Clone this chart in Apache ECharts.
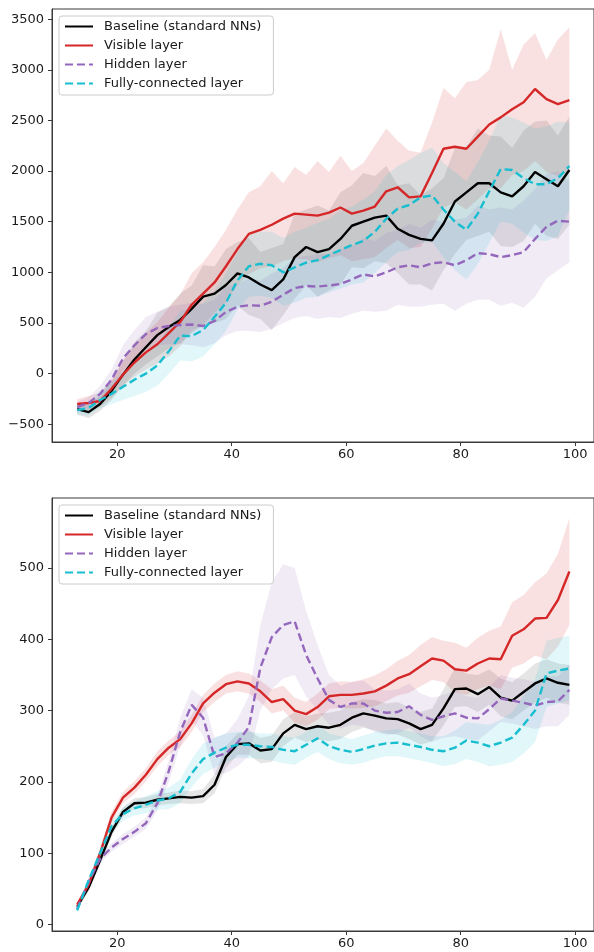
<!DOCTYPE html>
<html><head><meta charset="utf-8">
<script src="https://cdn.jsdelivr.net/npm/echarts@6/dist/echarts.min.js"></script>
<style>html,body{margin:0;padding:0;background:#fff}#c{width:594px;height:952px}</style>
</head><body><div id="c"></div>
<script>
// ---------- data ----------
const xs = [13,15,17,19,21,23,25,27,29,31,33,35,37,39,41,43,45,47,49,51,53,55,57,59,61,63,65,67,69,71,73,75,77,79,81,83,85,87,89,91,93,95,97,99];
const seriesNames = ['Baseline (standard NNs)','Visible layer','Hidden layer','Fully-connected layer'];
const xTicks = [20,40,60,80,100];
const topYTicks = [-500,0,500,1000,1500,2000,2500,3000,3500];
const botYTicks = [0,100,200,300,400,500];

// top panel
const topBaseline   = [-350,-380,-300,-170,-10,140,260,380,460,530,640,760,790,875,990,950,880,825,930,1150,1250,1200,1230,1330,1460,1500,1540,1560,1430,1370,1330,1316,1480,1700,1790,1880,1880,1790,1750,1850,1990,1920,1850,2010];
const topBaselineHi = [-300,-310,-220,-80,120,310,420,600,660,790,870,1070,1060,1230,1300,1340,1200,1240,1280,1580,1620,1660,1610,1790,1860,1980,1950,2050,1860,1880,1760,1830,1930,2230,2240,2420,2350,2340,2230,2400,2490,2500,2350,2540];
const topBaselineLo = [-400,-440,-370,-260,-120,0,90,170,250,300,400,470,500,540,670,580,540,430,580,740,870,760,820,880,1050,1040,1110,1090,990,880,880,820,1020,1180,1320,1360,1400,1260,1250,1310,1480,1360,1330,1470];

const topVisible   = [-300,-290,-270,-150,-10,110,210,290,400,510,680,790,900,1060,1230,1380,1420,1470,1530,1580,1570,1560,1590,1640,1580,1610,1650,1800,1840,1740,1750,1980,2220,2240,2220,2340,2460,2530,2610,2680,2810,2710,2660,2700];
const topVisibleHi = [-250,-220,-190,-50,130,280,400,510,650,780,990,1100,1250,1420,1620,1790,1850,2000,1880,2040,1960,2100,1990,2150,2000,2080,2250,2420,2300,2200,2180,2480,2820,2720,2880,2900,3000,3400,3000,3250,3360,3100,3300,3420];
const topVisibleLo = [-350,-360,-330,-240,-120,-30,40,100,170,270,420,480,600,700,880,980,1040,1060,1110,1140,1130,1100,1140,1170,1110,1130,1150,1240,1320,1240,1250,1430,1640,1690,1620,1720,1830,1830,1960,2000,2100,1990,1950,1980];

const topHidden   = [-330,-290,-200,-60,150,280,390,450,470,480,485,470,520,610,660,675,670,710,780,845,865,860,870,885,930,980,960,1000,1050,1070,1050,1090,1100,1070,1120,1190,1180,1150,1170,1200,1330,1450,1510,1500];
const topHiddenHi = [-280,-230,-120,40,280,430,560,610,660,680,700,690,730,860,890,940,920,990,1040,1150,1160,1180,1180,1230,1260,1340,1310,1390,1420,1480,1440,1520,1500,1520,1540,1660,1620,1640,1620,1710,1820,1970,2000,1900];
const topHiddenLo = [-380,-350,-270,-150,30,140,230,280,290,290,280,260,300,380,420,420,410,440,500,550,570,540,560,550,590,620,610,620,680,660,660,680,690,620,690,730,730,670,700,650,760,940,1020,1100];

const topFC   = [-360,-340,-260,-200,-130,-60,0,80,220,375,370,430,560,700,920,1060,1085,1070,1000,1050,1095,1120,1170,1220,1270,1310,1400,1530,1630,1665,1740,1760,1620,1500,1420,1580,1800,2020,2010,1930,1870,1870,1930,2050];
const topFCHi = [-310,-280,-170,-90,10,110,190,290,450,620,630,700,820,990,1200,1370,1400,1400,1340,1400,1440,1490,1530,1610,1650,1720,1800,1960,2050,2110,2180,2230,2080,1990,1900,2090,2300,2550,2530,2480,2420,2440,2490,2480];
const topFCLo = [-410,-410,-340,-300,-260,-220,-180,-120,0,130,120,170,290,420,630,760,770,750,670,700,750,760,800,840,880,900,990,1100,1200,1220,1290,1300,1150,1020,930,1080,1290,1500,1480,1390,1320,1310,1360,1620];

// bottom panel
const botBaseline   = [25,52,90,130,158,170,171,175,177,179,178,180,196,235,253,254,244,246,268,280,274,278,276,280,290,296,293,289,288,282,274,280,303,330,331,323,333,318,314,326,338,345,339,336];
const botBaselineHi = [28,57,96,137,165,177,179,183,185,188,187,190,210,250,268,272,262,265,288,298,292,296,297,300,312,316,315,310,312,304,298,303,330,360,352,350,358,345,340,352,366,372,366,364];
const botBaselineLo = [22,47,84,123,151,163,163,167,169,170,169,170,184,220,238,238,226,228,250,262,256,259,257,260,270,276,272,268,266,260,252,257,279,305,306,298,308,292,288,300,311,318,311,308];

const botVisible   = [28,56,100,150,178,192,210,232,248,260,282,310,325,337,341,338,327,312,316,300,295,305,320,322,322,324,327,335,345,351,362,373,370,358,356,366,373,372,405,414,429,430,455,495];
const botVisibleHi = [31,61,107,158,186,201,219,243,258,271,294,322,338,350,355,352,342,330,335,318,312,324,338,341,340,344,349,358,370,378,392,403,398,395,388,402,412,418,452,462,480,492,520,570];
const botVisibleLo = [25,51,93,142,170,183,201,222,238,249,270,298,312,324,327,324,312,296,300,283,278,287,302,304,303,304,306,313,321,325,334,343,340,326,322,330,335,330,360,366,377,372,390,420];

const botHidden   = [22,60,92,108,120,130,142,170,215,270,308,290,235,240,255,277,360,403,420,425,378,345,315,305,310,310,300,297,298,306,294,287,292,296,290,289,302,317,314,311,307,312,313,329];
const botHiddenHi = [25,65,98,114,127,137,150,180,230,290,330,318,262,268,288,320,420,480,505,500,440,392,350,335,340,342,330,328,330,338,324,318,322,328,320,318,333,350,346,344,340,348,348,365];
const botHiddenLo = [19,55,86,102,113,123,134,160,200,250,286,265,210,212,222,236,300,330,345,350,320,300,280,275,280,278,270,266,268,276,264,256,262,264,260,258,271,284,282,278,274,278,278,294];

const botFC   = [20,62,100,138,155,163,168,174,177,186,212,232,241,248,252,252,250,249,245,243,252,261,250,245,242,246,251,254,255,252,249,245,243,248,258,255,250,255,262,280,300,352,356,359];
const botFCHi = [23,67,106,146,164,173,180,187,192,203,232,254,262,268,270,271,268,268,264,262,270,280,268,264,260,265,270,272,274,271,268,264,264,272,284,282,280,287,298,320,344,398,402,405];
const botFCLo = [17,57,94,130,146,153,156,161,162,170,193,211,220,228,234,233,232,230,226,224,234,242,232,226,224,227,232,236,236,233,230,226,222,225,232,228,222,224,228,240,256,305,310,314];

// ---------- chart ----------
const FONT = 'DejaVu Sans';
const TXT = '#1a1a1a';
const AX = '#3a3a3a';
const colors = ['#000000', '#d62728', '#9467bd', '#17becf'];
const fills = ['rgba(0,0,0,0.10)', 'rgba(214,39,40,0.14)', 'rgba(148,103,189,0.13)', 'rgba(23,190,207,0.13)'];
const dashed = [false, false, true, true];

const panels = [
  {means:[topBaseline, topVisible, topHidden, topFC], his:[topBaselineHi, topVisibleHi, topHiddenHi, topFCHi], los:[topBaselineLo, topVisibleLo, topHiddenLo, topFCLo], yMin:-675, yMax:3600, yTicks: topYTicks},
  {means:[botBaseline, botVisible, botHidden, botFC], his:[botBaselineHi, botVisibleHi, botHiddenHi, botFCHi], los:[botBaselineLo, botVisibleLo, botHiddenLo, botFCLo], yMin:-9, yMax:598, yTicks: botYTicks}
];
const gridTops = [9, 498];

function pairs(ys){ return xs.map((x,i)=>[x, ys[i]]); }

const grids = [], xAxes = [], yAxes = [], series = [], legends = [];
panels.forEach((p, g) => {
  grids.push({left:52, top:gridTops[g], width:545, height:433, show:true, borderColor:AX, borderWidth:1, containLabel:false});
  xAxes.push({type:'value', gridIndex:g, min:8.6, max:103.3,
    axisLine:{show:true, onZero:false, lineStyle:{color:AX, width:1}},
    axisTick:{show:true, length:4, customValues:xTicks, lineStyle:{color:AX}},
    axisLabel:{customValues:xTicks, color:TXT, fontSize:13, fontFamily:FONT, margin:6},
    splitLine:{show:false}});
  yAxes.push({type:'value', gridIndex:g, min:p.yMin, max:p.yMax,
    axisLine:{show:true, onZero:false, lineStyle:{color:AX, width:1}},
    axisTick:{show:true, length:4, customValues:p.yTicks, lineStyle:{color:AX}},
    axisLabel:{customValues:p.yTicks, color:TXT, fontSize:13, fontFamily:FONT, margin:8,
      formatter: v => String(v).replace('-', '\u2212')},
    splitLine:{show:false}});
  // bands
  p.means.forEach((m, k) => {
    const lo = p.los[k], hi = p.his[k], fill = fills[k];
    series.push({type:'custom', name:'band', xAxisIndex:g, yAxisIndex:g, silent:true, clip:true, z:1,
      data: xs.map((x,i)=>[x, lo[i], hi[i]]),
      encode:{x:0, y:[1,2]},
      renderItem: function(params, api){
        if (params.dataIndex !== 0) return null;
        const pts = [];
        for (let i = 0; i < xs.length; i++) pts.push(api.coord([xs[i], hi[i]]));
        for (let i = xs.length - 1; i >= 0; i--) pts.push(api.coord([xs[i], lo[i]]));
        return {type:'polygon', shape:{points:pts}, style:{fill:fill, stroke:null}};
      }});
  });
  // mean lines
  p.means.forEach((m, k) => {
    series.push({type:'line', name:seriesNames[k], xAxisIndex:g, yAxisIndex:g, data:pairs(m),
      symbol:'none', silent:true, z:3 + k,
      lineStyle:{color:colors[k], width:2.4, type: dashed[k] ? [8,4] : 'solid'},
      itemStyle:{color:colors[k]}});
  });
  legends.push({data:seriesNames, orient:'vertical', left:59, top:gridTops[g] + 7,
    itemWidth:28, itemHeight:14, itemGap:6, padding:[4,12,5,5],
    backgroundColor:'rgba(255,255,255,0.85)', borderColor:'#cccccc', borderWidth:1, borderRadius:3,
    itemStyle:{opacity:0},
    textStyle:{fontFamily:FONT, fontSize:13, color:TXT, padding:[0,0,0,6]},
    selectedMode:false});
});

const chart = echarts.init(document.getElementById('c'), null, {renderer:'canvas'});
chart.setOption({animation:false, backgroundColor:'#ffffff', grid:grids, xAxis:xAxes, yAxis:yAxes, legend:legends, series:series});
</script></body></html>
